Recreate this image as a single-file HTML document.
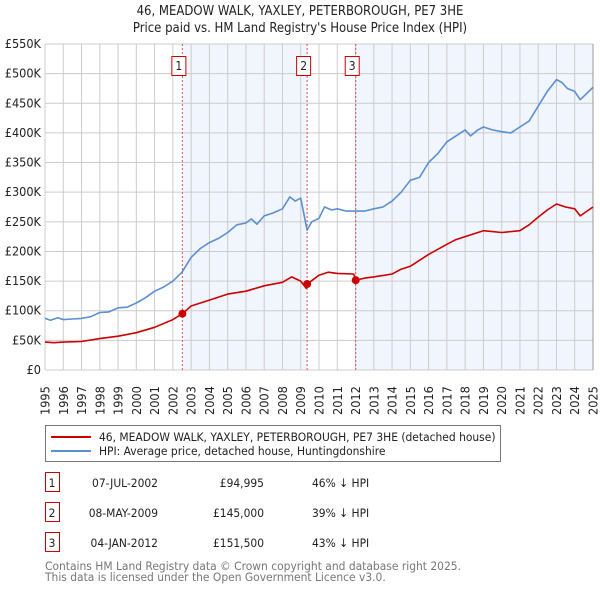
<!DOCTYPE html>
<html><head><meta charset="utf-8"><style>
body{margin:0;background:#fff;}
svg{display:block;font-family:"DejaVu Sans Condensed","DejaVu Sans","Liberation Sans",sans-serif;font-stretch:condensed;}
</style></head><body>
<svg id="c" width="600" height="590" viewBox="0 0 600 590" xmlns="http://www.w3.org/2000/svg">
<text x="300" y="15" text-anchor="middle" font-size="13" fill="#222">46, MEADOW WALK, YAXLEY, PETERBOROUGH, PE7 3HE</text>
<text x="300" y="32" text-anchor="middle" font-size="13" fill="#222">Price paid vs. HM Land Registry's House Price Index (HPI)</text>
<g id="plot"></g>
<g>
<rect x="45.5" y="425.5" width="455" height="36" fill="#fff" stroke="#777"/>
<line x1="51" y1="437" x2="91" y2="437" stroke="#cc0000" stroke-width="2"/>
<text x="99" y="441" font-size="11.9" fill="#222">46, MEADOW WALK, YAXLEY, PETERBOROUGH, PE7 3HE (detached house)</text>
<line x1="51" y1="451" x2="91" y2="451" stroke="#5b8fd0" stroke-width="2"/>
<text x="99" y="455" font-size="11.9" fill="#222">HPI: Average price, detached house, Huntingdonshire</text>
</g>
<g id="table" font-size="11.9" fill="#222"></g>
<text x="45" y="570" font-size="11.9" fill="#777">Contains HM Land Registry data © Crown copyright and database right 2025.</text>
<text x="45" y="581" font-size="11.9" fill="#777">This data is licensed under the Open Government Licence v3.0.</text>
</svg>
<script>
const hpiYears=[1995,1995.3,1995.7,1996,1996.5,1997,1997.5,1998,1998.5,1999,1999.5,2000,2000.5,2001,2001.5,2002,2002.5,2003,2003.5,2004,2004.5,2005,2005.5,2006,2006.3,2006.6,2007,2007.5,2008,2008.4,2008.7,2009,2009.35,2009.6,2010,2010.3,2010.7,2011,2011.5,2012,2012.5,2013,2013.5,2014,2014.5,2015,2015.5,2016,2016.5,2017,2017.5,2018,2018.3,2018.7,2019,2019.5,2020,2020.5,2021,2021.5,2022,2022.5,2023,2023.3,2023.6,2024,2024.3,2024.6,2025];
const hpiValues=[87,84,88,85,86,87,90,97,98,105,106,113,122,133,140,150,165,190,205,215,222,232,245,248,255,246,260,265,272,292,285,290,236,250,256,275,270,272,268,268,268,272,275,285,300,320,325,350,365,385,395,405,395,405,410,405,402,400,410,420,445,470,490,485,475,470,456,465,477];
const ppYears=[1995,1995.5,1996,1997,1998,1999,2000,2001,2002,2002.52,2003,2004,2005,2006,2007,2008,2008.5,2009,2009.3,2009.35,2010,2010.5,2011,2011.9,2012.01,2012.5,2013,2014,2014.5,2015,2016,2017,2017.5,2018,2019,2020,2021,2021.5,2022,2022.5,2023,2023.5,2024,2024.3,2025];
const ppValues=[47,46,47,48,53,57,63,72,85,95,108,118,128,133,142,148,157,150,138,145,160,165,163,162,151.5,155,157,162,170,175,195,212,220,225,235,232,235,245,258,270,280,275,272,260,275];
const saleYears=[2002.52,2009.35,2012.01];
const saleValues=[94.995,145,151.5];
const saleLabels=["1","2","3"];
const saleDates=["07-JUL-2002","08-MAY-2009","04-JAN-2012"];
const salePrices=["£94,995","£145,000","£151,500"];
const saleDiffs=["46% ↓ HPI","39% ↓ HPI","43% ↓ HPI"];
const yTicks=[0,50,100,150,200,250,300,350,400,450,500,550];
const yTickLabels=["£0","£50K","£100K","£150K","£200K","£250K","£300K","£350K","£400K","£450K","£500K","£550K"];
const xTicks=[1995,1996,1997,1998,1999,2000,2001,2002,2003,2004,2005,2006,2007,2008,2009,2010,2011,2012,2013,2014,2015,2016,2017,2018,2019,2020,2021,2022,2023,2024,2025];

const NS="http://www.w3.org/2000/svg";
const X0=45,X1=593,Y0=370,Y1=44;
const xs=y=>X0+(y-1995)/30*(X1-X0);
const ys=v=>Y0-v/550*(Y0-Y1);
const g=document.getElementById('plot');
function mk(tag,attrs,parent){const e=document.createElementNS(NS,tag);for(const k in attrs)e.setAttribute(k,attrs[k]);(parent||g).appendChild(e);return e;}
let r=mk('rect',{x:xs(saleYears[0]),y:Y1,width:xs(saleYears[1])-xs(saleYears[0]),height:Y0-Y1,fill:'#eef3fc',opacity:0.8});


r=mk('rect',{x:xs(saleYears[2]),y:Y1,width:X1-xs(saleYears[2]),height:Y0-Y1,fill:'#eef3fc',opacity:0.8});


yTicks.forEach((v,i)=>{
  const l=mk('line',{x1:X0,x2:X1,y1:ys(v),y2:ys(v),stroke:'#cccccc'});
  
  
  const t=mk('text',{x:X0-4,y:ys(v)+4,'text-anchor':'end','font-size':12.6,fill:'#222'});
  t.textContent=yTickLabels[i];
  
  
});
xTicks.forEach(y=>{
  const l=mk('line',{x1:xs(y),x2:xs(y),y1:Y1,y2:Y0,stroke:'#cccccc'});
  
  
  const t=mk('text',{transform:`translate(${xs(y)+4.5},${Y0+45}) rotate(-90)`,'font-size':12.6,fill:'#222'});
  t.textContent=y;
  
  
});
mk('line',{x1:X1,x2:X1,y1:Y1,y2:Y0,stroke:'#999'});
saleYears.forEach((y,i)=>{
  const l=mk('line',{x1:xs(y),x2:xs(y),y1:Y1,y2:Y0,stroke:'#e05050','stroke-dasharray':'2,2'});
  
  
  const b=mk('rect',{x:xs(y)-10.5,y:56.5,width:14,height:19,fill:'#fff',stroke:'#cc0000'});
  
  
  const t=mk('text',{x:xs(y)-3.5,y:70,'text-anchor':'middle','font-size':12,fill:'#222'});
  t.textContent=saleLabels[i];
  
  
});
function line(xa,va,color,name){
  const d=xa.map((x,i)=>(i?'L':'M')+xs(x).toFixed(1)+','+ys(va[i]).toFixed(1)).join('');
  const p=mk('path',{d,fill:'none',stroke:color,'stroke-width':1.6,'stroke-linejoin':'round'});
  
  
}
line(hpiYears,hpiValues,'#5b8fd0','hpi-line');
line(ppYears,ppValues,'#cc0000','price-paid-line');
saleYears.forEach((y,i)=>{
  const c=mk('circle',{cx:xs(y),cy:ys(saleValues[i]),r:4,fill:'#cc0000'});
  
  
});
const tb=document.getElementById('table');
saleYears.forEach((y,i)=>{
  const yy=483+i*30;
  const b=mk('rect',{x:45.5,y:yy-10.5,width:14,height:19,fill:'#fff',stroke:'#cc0000'},tb);
  
  
  const cells=[[52,saleLabels[i],'middle','table-sale-number'],[158,saleDates[i],'end','table-sale-date'],[264,salePrices[i],'end','table-sale-price'],[312,saleDiffs[i],'start','table-sale-hpi-diff']];
  cells.forEach(c=>{
    const t=mk('text',{x:c[0],y:yy+4,'text-anchor':c[2]},tb);
    t.textContent=c[1];
    
    
  });
});
</script>
</body></html>
